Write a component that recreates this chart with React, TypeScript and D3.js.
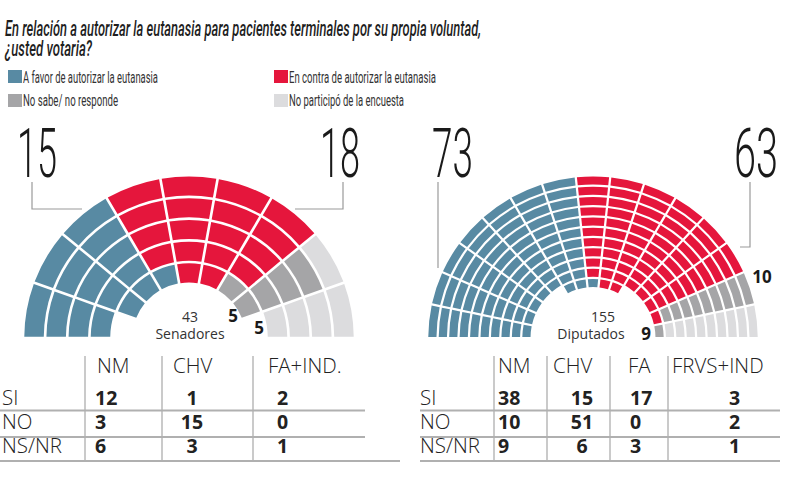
import React from "react";
import * as d3 from "d3";

// ---------- data ----------
const titleLines = [
  "En relación a autorizar la eutanasia para pacientes terminales por su propia voluntad,",
  "¿usted votaria?",
];
const legendLabels = [
  "A favor de autorizar la eutanasia",
  "En contra de autorizar la eutanasia",
  "No sabe/ no responde",
  "No participó de la encuesta",
];
const categoryColors = ["#588aa3", "#e5163c", "#a5a5a7", "#dcdcde"];

// Seat composition per ring (outer → inner): [favor, contra, NS/NR, no participó]
const senateRingCounts = [
  [3, 4, 0, 2],
  [3, 4, 1, 1],
  [3, 4, 1, 1],
  [3, 4, 1, 1],
  [3, 2, 2, 0],
];
const senateRingStart = [0, 0, 0, 0, 1];
const senateWedges = 9;
const senateTotals = [15, 18, 5, 5];

const deputyRingCounts = [
  [7, 6, 1, 1],
  [7, 6, 1, 1],
  [7, 6, 1, 1],
  [7, 6, 1, 1],
  [7, 6, 1, 1],
  [7, 6, 1, 1],
  [7, 6, 1, 1],
  [7, 6, 1, 1],
  [7, 6, 1, 1],
  [7, 7, 1, 0],
  [3, 2, 0, 0],
];
const deputyRingStart = [0, 0, 0, 0, 0, 0, 0, 0, 0, 0, 5];
const deputyWedges = 15;
const deputyTotals = [73, 63, 10, 9];

const senateParties = ["NM", "CHV", "FA+IND."];
const deputyParties = ["NM", "CHV", "FA", "FRVS+IND"];
const rowLabels = ["SI", "NO", "NS/NR"];
const senateTable = [
  [12, 1, 2],
  [3, 15, 0],
  [6, 3, 1],
];
const deputyTable = [
  [38, 15, 17, 3],
  [10, 51, 0, 2],
  [9, 6, 3, 1],
];

// ---------- helpers ----------
type Seat = { ring: number; wedge: number; cat: number };
function buildSeats(counts: number[][], starts: number[]): Seat[] {
  const seats: Seat[] = [];
  counts.forEach((row, ring) => {
    let w = starts[ring];
    row.forEach((n, cat) => {
      for (let k = 0; k < n; k++) seats.push({ ring, wedge: w++, cat });
    });
  });
  return seats;
}

function Hemicycle(props: {
  cx: number;
  cy: number;
  rOuter: number;
  rInner: number;
  gap: number;
  counts: number[][];
  starts: number[];
  wedges: number;
}) {
  const { cx, cy, rOuter, rInner, gap, counts, starts, wedges } = props;
  const seats = buildSeats(counts, starts);
  const nRings = counts.length;
  const angle = d3.scaleLinear().domain([0, wedges]).range([-Math.PI / 2, Math.PI / 2]);
  const radius = d3.scaleLinear().domain([0, nRings]).range([rOuter + gap / 2, rInner - gap / 2]);
  const arc = d3.arc<any>().padRadius(100).padAngle(gap / 100);
  return (
    <g transform={`translate(${cx},${cy}) scale(1.02,1)`}>
      {seats.map((s, i) => (
        <path
          key={i}
          d={
            arc({
              innerRadius: radius(s.ring + 1) + gap / 2,
              outerRadius: radius(s.ring) - gap / 2,
              startAngle: angle(s.wedge),
              endAngle: angle(s.wedge + 1),
            }) as string
          }
          fill={categoryColors[s.cat]}
        />
      ))}
    </g>
  );
}

const sans = "'Open Sans', 'Noto Sans', sans-serif";
const cond = "Roboto, 'Noto Sans', sans-serif";

function Table(props: {
  parties: string[];
  partyX: number[];
  values: number[][];
  valX: number[];
  valAnchor: string[];
  labelX: number;
  sepX: number[];
  lineX0: number;
  lineX1: number;
  lastX1: number;
}) {
  const { parties, partyX, values, valX, valAnchor, labelX, sepX, lineX0, lineX1, lastX1 } = props;
  const rowY = [405, 429, 453];
  return (
    <g>
      {sepX.map((x, i) => (
        <line key={"s" + i} x1={x} x2={x} y1={356} y2={462} stroke="#b8b8b8" strokeWidth={1.5} />
      ))}
      <line x1={lineX0} x2={lineX1} y1={410.5} y2={410.5} stroke="#b0b0b0" strokeWidth={2} />
      <line x1={lineX0} x2={lineX1} y1={437} y2={437} stroke="#b0b0b0" strokeWidth={2} />
      <line x1={lineX0} x2={lastX1} y1={461} y2={461} stroke="#b0b0b0" strokeWidth={2} />
      {parties.map((p, i) => (
        <text key={"p" + i} x={partyX[i]} y={373} fontFamily={sans} fontWeight={300} fontSize={20.5} fill="#222">
          {p}
        </text>
      ))}
      {rowLabels.map((r, i) => (
        <text key={"r" + i} x={labelX} y={rowY[i]} fontFamily={sans} fontWeight={300} fontSize={20.5} fill="#222">
          {r}
        </text>
      ))}
      {values.map((row, i) =>
        row.map((v, j) => (
          <text
            key={i + "-" + j}
            x={valX[j]}
            y={rowY[i]}
            textAnchor={valAnchor[j] as any}
            fontFamily={sans}
            fontWeight={700}
            fontSize={19.5}
            fill="#222"
          >
            {v}
          </text>
        ))
      )}
    </g>
  );
}

export default function App() {
  const bigNum = (txt: string | number, x: number, w: number) => (
    <text
      x={x}
      y={177}
      fontFamily={cond}
      fontWeight={300}
      fontSize={69}
      fill="#1a1a1a"
      textLength={w}
      lengthAdjust="spacingAndGlyphs"
    >
      {txt}
    </text>
  );
  const small = (txt: string | number, x: number, y: number, anchor = "middle") => (
    <text x={x} y={y} textAnchor={anchor as any} fontFamily={sans} fontSize={14} fill="#333">
      {txt}
    </text>
  );
  const bold = (txt: string | number, x: number, y: number) => (
    <text x={x} y={y} textAnchor="middle" fontFamily={sans} fontWeight={700} fontSize={17} fill="#1a1a1a">
      {txt}
    </text>
  );
  const legendText = (txt: string, x: number, y: number, w: number) => (
    <text x={x} y={y} fontFamily={cond} fontWeight={400} fontSize={16} fill="#333" textLength={w} lengthAdjust="spacingAndGlyphs">
      {txt}
    </text>
  );
  return (
    <svg
      width={795}
      height={486}
      style={{ position: "absolute", left: 0, top: 0, background: "#fff" }}
    >
      <rect width={795} height={486} fill="#fff" />
      {/* title */}
      <text x={5} y={36} fontFamily={cond} fontStyle="italic" fontWeight={500} fontSize={21.5} fill="#1e1e1e" textLength={476} lengthAdjust="spacingAndGlyphs">
        {titleLines[0]}
      </text>
      <text x={5} y={55.5} fontFamily={cond} fontStyle="italic" fontWeight={500} fontSize={21.5} fill="#1e1e1e" textLength={87} lengthAdjust="spacingAndGlyphs">
        {titleLines[1]}
      </text>
      {/* legend */}
      <rect x={8} y={70} width={14} height={13} fill={categoryColors[0]} />
      {legendText(legendLabels[0], 23, 83, 135)}
      <rect x={274} y={70} width={14} height={13} fill={categoryColors[1]} />
      {legendText(legendLabels[1], 289, 83, 147)}
      <rect x={8} y={94} width={14} height={13} fill={categoryColors[2]} />
      {legendText(legendLabels[2], 23, 106, 95)}
      <rect x={274} y={94} width={14} height={13} fill={categoryColors[3]} />
      {legendText(legendLabels[3], 289, 106, 115)}

      {/* senate */}
      {bigNum(senateTotals[0], 17, 40)}
      {bigNum(senateTotals[1], 320, 40)}
      <polyline points="32,182 32,209 82,209" fill="none" stroke="#9a9a9a" strokeWidth={1.2} />
      <polyline points="343,182 343,209 295,209" fill="none" stroke="#9a9a9a" strokeWidth={1.2} />
      <Hemicycle cx={189} cy={338} rOuter={161.5} rInner={55.5} gap={2.6} counts={senateRingCounts} starts={senateRingStart} wedges={senateWedges} />
      {small(43, 190, 322)}
      {small("Senadores", 190, 339)}
      {bold(senateTotals[2], 233, 322)}
      {bold(senateTotals[3], 259, 334)}

      {/* deputies */}
      {bigNum(deputyTotals[0], 432, 41)}
      {bigNum(deputyTotals[1], 734, 44)}
      <polyline points="438,182 438,268" fill="none" stroke="#9a9a9a" strokeWidth={1.2} />
      <polyline points="750,182 750,247 740,247" fill="none" stroke="#9a9a9a" strokeWidth={1.2} />
      <Hemicycle cx={593} cy={338} rOuter={161.5} rInner={51} gap={2.2} counts={deputyRingCounts} starts={deputyRingStart} wedges={deputyWedges} />
      {small("155", 603, 322)}
      {small("Diputados", 591, 339)}
      {bold(deputyTotals[3], 646, 340)}
      {bold(deputyTotals[2], 762, 283)}

      {/* tables */}
      <Table
        parties={senateParties}
        partyX={[97, 173, 268]}
        values={senateTable}
        valX={[95, 192, 277]}
        valAnchor={["start", "middle", "start"]}
        labelX={2}
        sepX={[85, 162, 253]}
        lineX0={0}
        lineX1={365}
        lastX1={400}
      />
      <Table
        parties={deputyParties}
        partyX={[498, 553, 628, 672]}
        values={deputyTable}
        valX={[498, 582, 630, 729]}
        valAnchor={["start", "middle", "start", "start"]}
        labelX={420}
        sepX={[494, 547, 610, 668]}
        lineX0={420}
        lineX1={780}
        lastX1={780}
      />
    </svg>
  );
}
